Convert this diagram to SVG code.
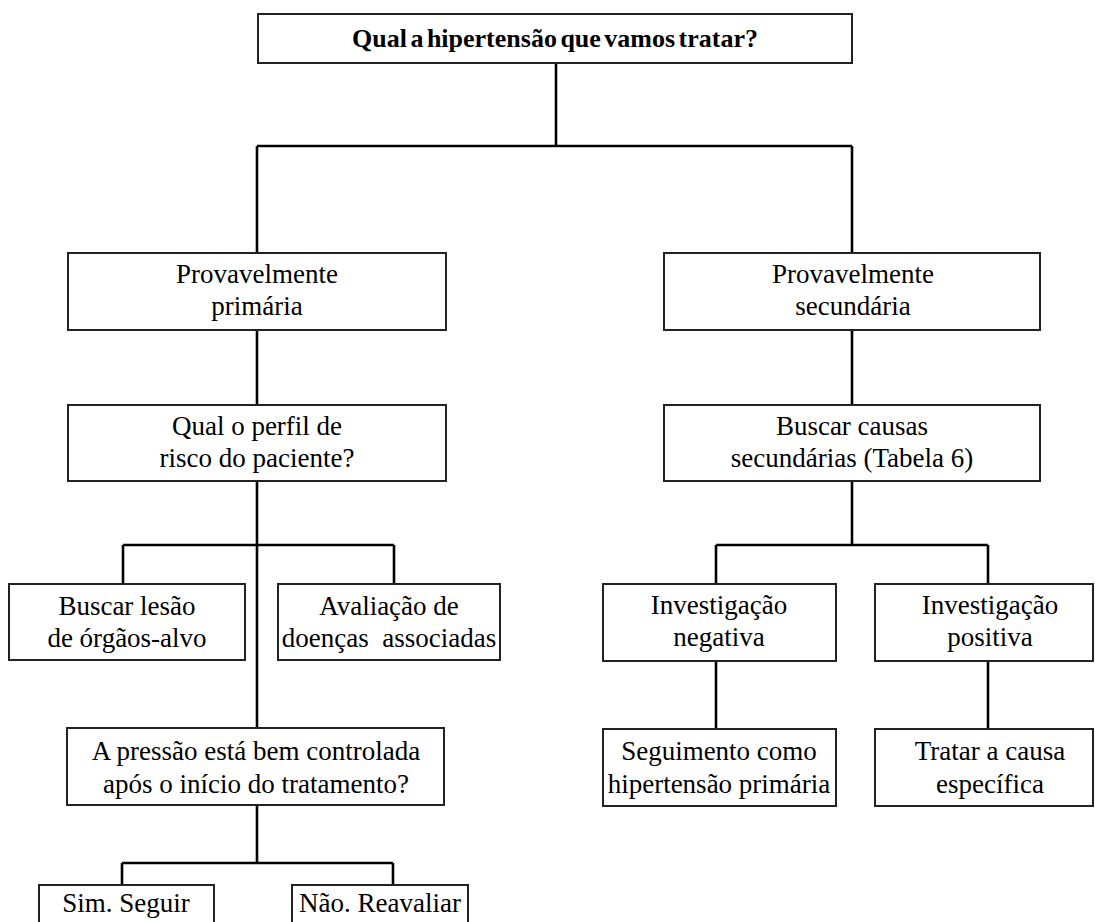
<svg xmlns="http://www.w3.org/2000/svg" width="1095" height="922" viewBox="0 0 1095 922">
<style>
.box{fill:#fff;stroke:#222;stroke-width:2}
.t{font-family:"Liberation Serif","Times New Roman",serif;font-size:27px;fill:#000;text-anchor:middle}
.b{font-weight:bold;font-size:26px;word-spacing:-3px}
.c{fill:none;stroke:#000;stroke-width:2.6}
</style>
<rect width="1095" height="922" fill="#fff"/>
<g id="connectors" class="c">
<path d="M556 63V146M257 146H852M257 146V253M852 146V253"/>
<path d="M257 330V405M852 330V405"/>
<path d="M257 481V728M123 545H394M123 545V584M394 545V584"/>
<path d="M852 481V545M716 545H988M716 545V584M988 545V584"/>
<path d="M716 661V729M988 661V729"/>
<path d="M257 805V863M122 863H393M122 863V885M393 863V885"/>
</g>
<g id="n_root"><rect class="box" x="258" y="14" width="594" height="49"/><text class="t b" x="555" y="47">Qual a hipertensão que vamos tratar?</text></g>
<g id="n_primaria"><rect class="box" x="68" y="253" width="378" height="77"/><text class="t" x="257" y="283">Provavelmente</text><text class="t" x="257" y="315">primária</text></g>
<g id="n_secundaria"><rect class="box" x="664" y="253" width="376" height="77"/><text class="t" x="853" y="283">Provavelmente</text><text class="t" x="853" y="315">secundária</text></g>
<g id="n_perfil"><rect class="box" x="68" y="405" width="378" height="76"/><text class="t" x="257" y="435">Qual o perfil de</text><text class="t" x="257" y="467">risco do paciente?</text></g>
<g id="n_causas"><rect class="box" x="664" y="405" width="376" height="76"/><text class="t" x="852" y="435">Buscar causas</text><text class="t" x="852" y="467">secundárias (Tabela 6)</text></g>
<g id="n_lesao"><rect class="box" x="9" y="584" width="236" height="76"/><text class="t" x="127" y="615">Buscar lesão</text><text class="t" x="127" y="647">de órgãos-alvo</text></g>
<g id="n_doencas"><rect class="box" x="278" y="584" width="222" height="76"/><text class="t" x="389" y="615">Avaliação de</text><text class="t" x="389" y="647">doenças&#160; associadas</text></g>
<g id="n_negativa"><rect class="box" x="603" y="584" width="233" height="77"/><text class="t" x="719" y="614">Investigação</text><text class="t" x="719" y="646">negativa</text></g>
<g id="n_positiva"><rect class="box" x="875" y="584" width="218" height="77"/><text class="t" x="990" y="614">Investigação</text><text class="t" x="990" y="646">positiva</text></g>
<g id="n_seguimento"><rect class="box" x="603" y="729" width="233" height="77"/><text class="t" x="719" y="760">Seguimento como</text><text class="t" x="719" y="793">hipertensão primária</text></g>
<g id="n_tratar"><rect class="box" x="875" y="729" width="218" height="77"/><text class="t" x="990" y="760">Tratar a causa</text><text class="t" x="990" y="793">específica</text></g>
<g id="n_pressao"><rect class="box" x="67" y="728" width="377" height="77"/><text class="t" x="256" y="760">A pressão está bem controlada</text><text class="t" x="256" y="793">após o início do tratamento?</text></g>
<g id="n_sim"><rect class="box" x="39" y="885" width="175" height="60"/><text class="t" x="126" y="912">Sim. Seguir</text></g>
<g id="n_nao"><rect class="box" x="292" y="885" width="176" height="60"/><text class="t" x="380" y="912">Não. Reavaliar</text></g>
</svg>
